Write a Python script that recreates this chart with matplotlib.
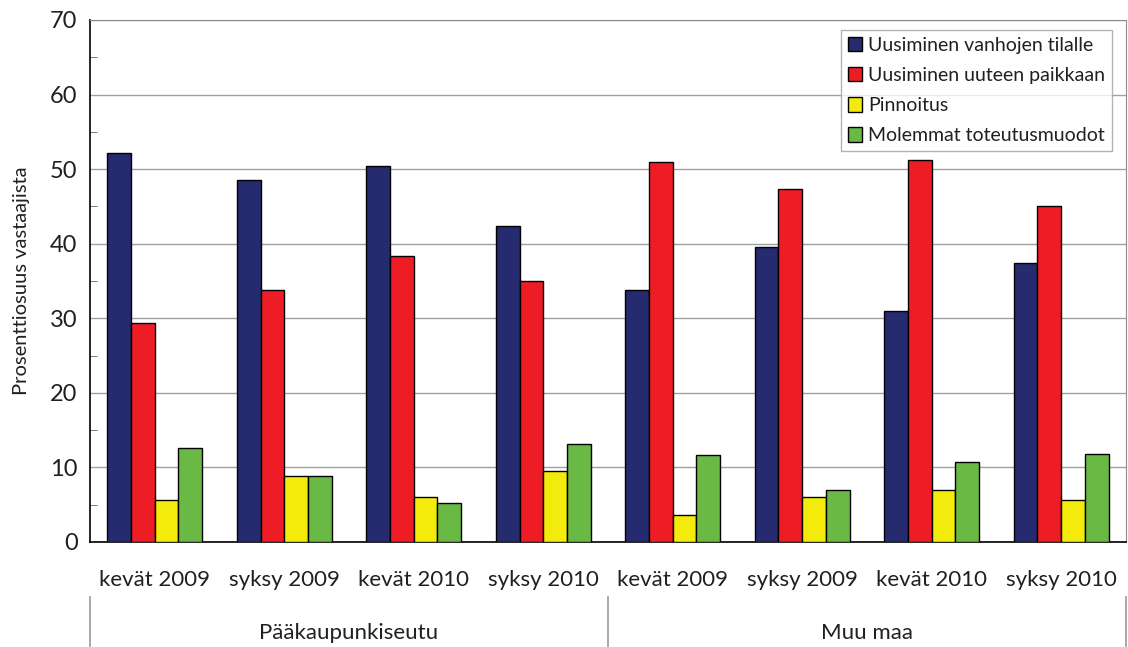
import numpy as np
import matplotlib
matplotlib.use("Agg")
import matplotlib.pyplot as plt

plt.rcParams['font.family'] = ['Lato', 'DejaVu Sans']

# kyselyn tulokset, % vastaajista
kaudet = ['kevät 2009', 'syksy 2009', 'kevät 2010', 'syksy 2010',
          'kevät 2009', 'syksy 2009', 'kevät 2010', 'syksy 2010']
alueet = ['Pääkaupunkiseutu', 'Muu maa']
sarjat = ['Uusiminen vanhojen tilalle', 'Uusiminen uuteen paikkaan',
          'Pinnoitus', 'Molemmat toteutusmuodot']
vanhojen_tilalle = [52.2, 48.6, 50.4, 42.4, 33.8, 39.6, 31.0, 37.4]
uuteen_paikkaan = [29.4, 33.8, 38.4, 35.0, 51.0, 47.4, 51.2, 45.0]
pinnoitus = [5.6, 8.8, 6.0, 9.5, 3.6, 6.0, 7.0, 5.6]
molemmat = [12.6, 8.8, 5.2, 13.2, 11.6, 7.0, 10.7, 11.8]

varit = ['#262a6e', '#ee1d25', '#f3eb0c', '#69b944']
tekstivari = '#231f20'

fig = plt.figure(figsize=(11.28, 6.47), dpi=100)
ax = fig.add_axes([0.0798, 0.1623, 0.9183, 0.8068])

x = np.arange(len(kaudet))
w = 0.183
arvot = [vanhojen_tilalle, uuteen_paikkaan, pinnoitus, molemmat]
for i, (vals, c, nimi) in enumerate(zip(arvot, varit, sarjat)):
    ax.bar(x + (i - 1.5) * w, vals, w, color=c, edgecolor='black',
           linewidth=1.0, label=nimi, zorder=3)

ax.set_xlim(-0.5, len(kaudet) - 0.5)
ax.set_ylim(0, 70)
ax.set_yticks(np.arange(0, 71, 10))
ax.set_yticks(np.arange(5, 70, 10), minor=True)
ax.yaxis.grid(True, color='#a0a0a0', linewidth=1.0, zorder=0)
ax.tick_params(axis='y', which='major', length=0, pad=9,
               labelsize=17, labelcolor=tekstivari)
ax.tick_params(axis='y', which='minor', direction='in', length=5,
               color='#666666')
ax.set_xticks(x)
ax.set_xticklabels(kaudet, fontsize=16, color=tekstivari)
ax.tick_params(axis='x', length=0, pad=20)

for s in ['top', 'right']:
    ax.spines[s].set_color('#8c8c8c')
for s in ['left', 'bottom']:
    ax.spines[s].set_color('black')
    ax.spines[s].set_linewidth(1.2)

ax.set_ylabel('Prosenttiosuus vastaajista', fontsize=14.5, color=tekstivari)
ax.yaxis.set_label_coords(-0.058, 0.5)

leg = ax.legend(loc='upper right', bbox_to_anchor=(0.9865, 0.981),
                fontsize=14, frameon=True, fancybox=False,
                handlelength=0.75, handleheight=0.75, handletextpad=0.3,
                labelspacing=0.68, borderpad=0.35, borderaxespad=0)
leg.get_frame().set_edgecolor('#a0a0a0')
leg.get_frame().set_linewidth(1.0)
leg.set_zorder(5)
for t in leg.get_texts():
    t.set_color(tekstivari)

# alueryhmien erotinviivat ja nimet
trans = ax.get_xaxis_transform()
for xs in [-0.5, 3.5, 7.5]:
    ax.plot([xs, xs], [-0.105, -0.2], color='#999999', linewidth=1.2,
            transform=trans, clip_on=False)
for j, nimi in enumerate(alueet):
    ax.text(1.5 + 4 * j, -0.175, nimi, transform=trans, ha='center',
            va='center', fontsize=16, color=tekstivari)

fig.savefig('out.png', dpi=100)
